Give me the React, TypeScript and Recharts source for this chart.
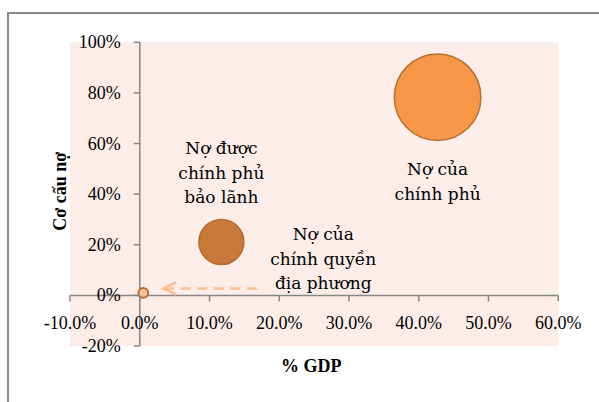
import React from "react";
import {
  ScatterChart,
  Scatter,
  XAxis,
  YAxis,
  ZAxis,
  ReferenceLine,
  ReferenceArea,
} from "recharts";

// bubbles: x = % GDP, y = cơ cấu nợ, size = cơ cấu nợ
const categories = [
  "Nợ của chính phủ",
  "Nợ được chính phủ bảo lãnh",
  "Nợ của chính quyền địa phương",
];
const gdpPercent = [42.7, 11.7, 0.5];
const debtShare = [78.3, 21.1, 1.0];
const bubbleSize = [78.3, 21.1, 1.0];
const labelLines = [
  ["Nợ của", "chính phủ"],
  ["Nợ được", "chính phủ", "bảo lãnh"],
  ["Nợ của", "chính quyền", "địa phương"],
];
const xTicks = [-10, 0, 10, 20, 30, 40, 50, 60];
const yTicks = [-20, 0, 20, 40, 60, 80, 100];

const data = categories.map((name, idx) => ({
  name,
  idx,
  x: gdpPercent[idx],
  y: debtShare[idx],
  z: bubbleSize[idx],
}));

const W = 599;
const H = 402;
const PLOT = { left: 70, top: 42.3, width: 488.3, height: 303.7 };
const X_DOMAIN: [number, number] = [-10, 60];
const Y_DOMAIN: [number, number] = [-20, 100];
const zeroY =
  PLOT.top + (PLOT.height * Y_DOMAIN[1]) / (Y_DOMAIN[1] - Y_DOMAIN[0]);
const zeroX =
  PLOT.left + (PLOT.width * -X_DOMAIN[0]) / (X_DOMAIN[1] - X_DOMAIN[0]);

const AXIS = "#868686";
const TICK_FONT = "'Liberation Serif', 'Times New Roman', serif";
const NOTE_FONT = "'DejaVu Serif', serif";

const fills = ["#F79646", "#C8793A", "#F9C09D"];
const strokes = ["#B5702F", "#B56A2E", "#C26A28"];
const noteOffsets = [
  { dx: 0, dy: 78 },
  { dx: 0, dy: -88 },
  { dx: 180, dy: -53 },
];
const LINE_H = 24.7;

const XTick = (props: any) => {
  const { x, payload } = props;
  return (
    <g>
      <line x1={x} x2={x} y1={zeroY} y2={zeroY + 6} stroke={AXIS} strokeWidth={1.5} />
      <text
        x={x}
        y={zeroY + 34}
        textAnchor="middle"
        fontFamily={TICK_FONT}
        fontSize={18}
        fill="#000"
      >
        {Number(payload.value).toFixed(1) + "%"}
      </text>
    </g>
  );
};

const YTick = (props: any) => {
  const { y, payload } = props;
  return (
    <g>
      <line x1={zeroX - 6} x2={zeroX} y1={y} y2={y} stroke={AXIS} strokeWidth={1.5} />
      <text
        x={zeroX - 19}
        y={y + 6}
        textAnchor="end"
        fontFamily={TICK_FONT}
        fontSize={18}
        fill="#000"
      >
        {payload.value + "%"}
      </text>
    </g>
  );
};

const Bubble = (props: any) => {
  const { cx, cy, payload } = props;
  const i = payload.idx;
  const r = props.width ? props.width / 2 : Math.sqrt((props.size || 0) / Math.PI);
  const off = noteOffsets[i];
  return (
    <g>
      <circle cx={cx} cy={cy} r={r} fill={fills[i]} stroke={strokes[i]} strokeWidth={i === 2 ? 2 : 1.5} />
      {i === 2 && (
        <g stroke="#FAC090" strokeWidth={2.5} fill="none">
          <line x1={cx + 21} x2={cx + 120} y1={cy - 4.4} y2={cy - 4.4} strokeDasharray="10 6.5" />
          <path d={`M${cx + 33},${cy - 10.5} L${cx + 20},${cy - 4.4} L${cx + 33},${cy + 1.7}`} />
        </g>
      )}
      <text textAnchor="middle" fontFamily={NOTE_FONT} fontSize={17} fill="#000">
        {labelLines[i].map((line, k) => (
          <tspan key={k} x={cx + off.dx} y={cy + off.dy + k * LINE_H}>
            {line}
          </tspan>
        ))}
      </text>
    </g>
  );
};

export default function App() {
  const bottomH = H - PLOT.top - PLOT.height;
  return (
    <div
      style={{
        position: "absolute",
        left: 0,
        top: 0,
        width: W,
        height: H,
        overflow: "hidden",
        background: "#fff",
      }}
    >
      <div
        style={{
          position: "absolute",
          left: 7,
          top: 12,
          width: 800,
          height: 600,
          border: "2px solid #8a8a8a",
        }}
      />
      <div style={{ position: "absolute", left: 0, top: 0 }}>
        <ScatterChart
          width={W}
          height={H}
          margin={{
            top: PLOT.top,
            left: 0,
            right: W - PLOT.left - PLOT.width,
            bottom: 0,
          }}
        >
          <XAxis
            type="number"
            dataKey="x"
            domain={X_DOMAIN}
            ticks={xTicks}
            allowDataOverflow
            height={bottomH}
            axisLine={false}
            tickLine={false}
            tick={<XTick />}
            interval={0}
            label={{
              content: () => (
                <text
                  x={PLOT.left + PLOT.width / 2 - 3}
                  y={PLOT.top + PLOT.height + 26}
                  textAnchor="middle"
                  fontFamily={TICK_FONT}
                  fontSize={18}
                  fontWeight="bold"
                  fill="#000"
                >
                  % GDP
                </text>
              ),
            }}
          />
          <YAxis
            type="number"
            dataKey="y"
            domain={Y_DOMAIN}
            ticks={yTicks}
            allowDataOverflow
            width={PLOT.left}
            axisLine={false}
            tickLine={false}
            tick={<YTick />}
            interval={0}
            label={{
              content: () => (
                <text
                  transform={`translate(${PLOT.left - 4}, ${PLOT.top + 149}) rotate(-90)`}
                  textAnchor="middle"
                  fontFamily={TICK_FONT}
                  fontSize={18}
                  fontWeight="bold"
                  fill="#000"
                >
                  Cơ cấu nợ
                </text>
              ),
            }}
          />
          <ZAxis
            type="number"
            dataKey="z"
            domain={[0, Math.max(...bubbleSize)]}
            range={[0, Math.PI * 43.3 * 43.3]}
          />
          <ReferenceArea
            x1={X_DOMAIN[0]}
            x2={X_DOMAIN[1]}
            y1={Y_DOMAIN[0]}
            y2={Y_DOMAIN[1]}
            fill="#FCEDE8"
            fillOpacity={1}
            stroke="none"
          />
          <ReferenceLine y={0} stroke={AXIS} strokeWidth={1.5} />
          <ReferenceLine x={0} stroke={AXIS} strokeWidth={1.5} />
          <Scatter data={data} shape={<Bubble />} isAnimationActive={false} />
        </ScatterChart>
      </div>
    </div>
  );
}
